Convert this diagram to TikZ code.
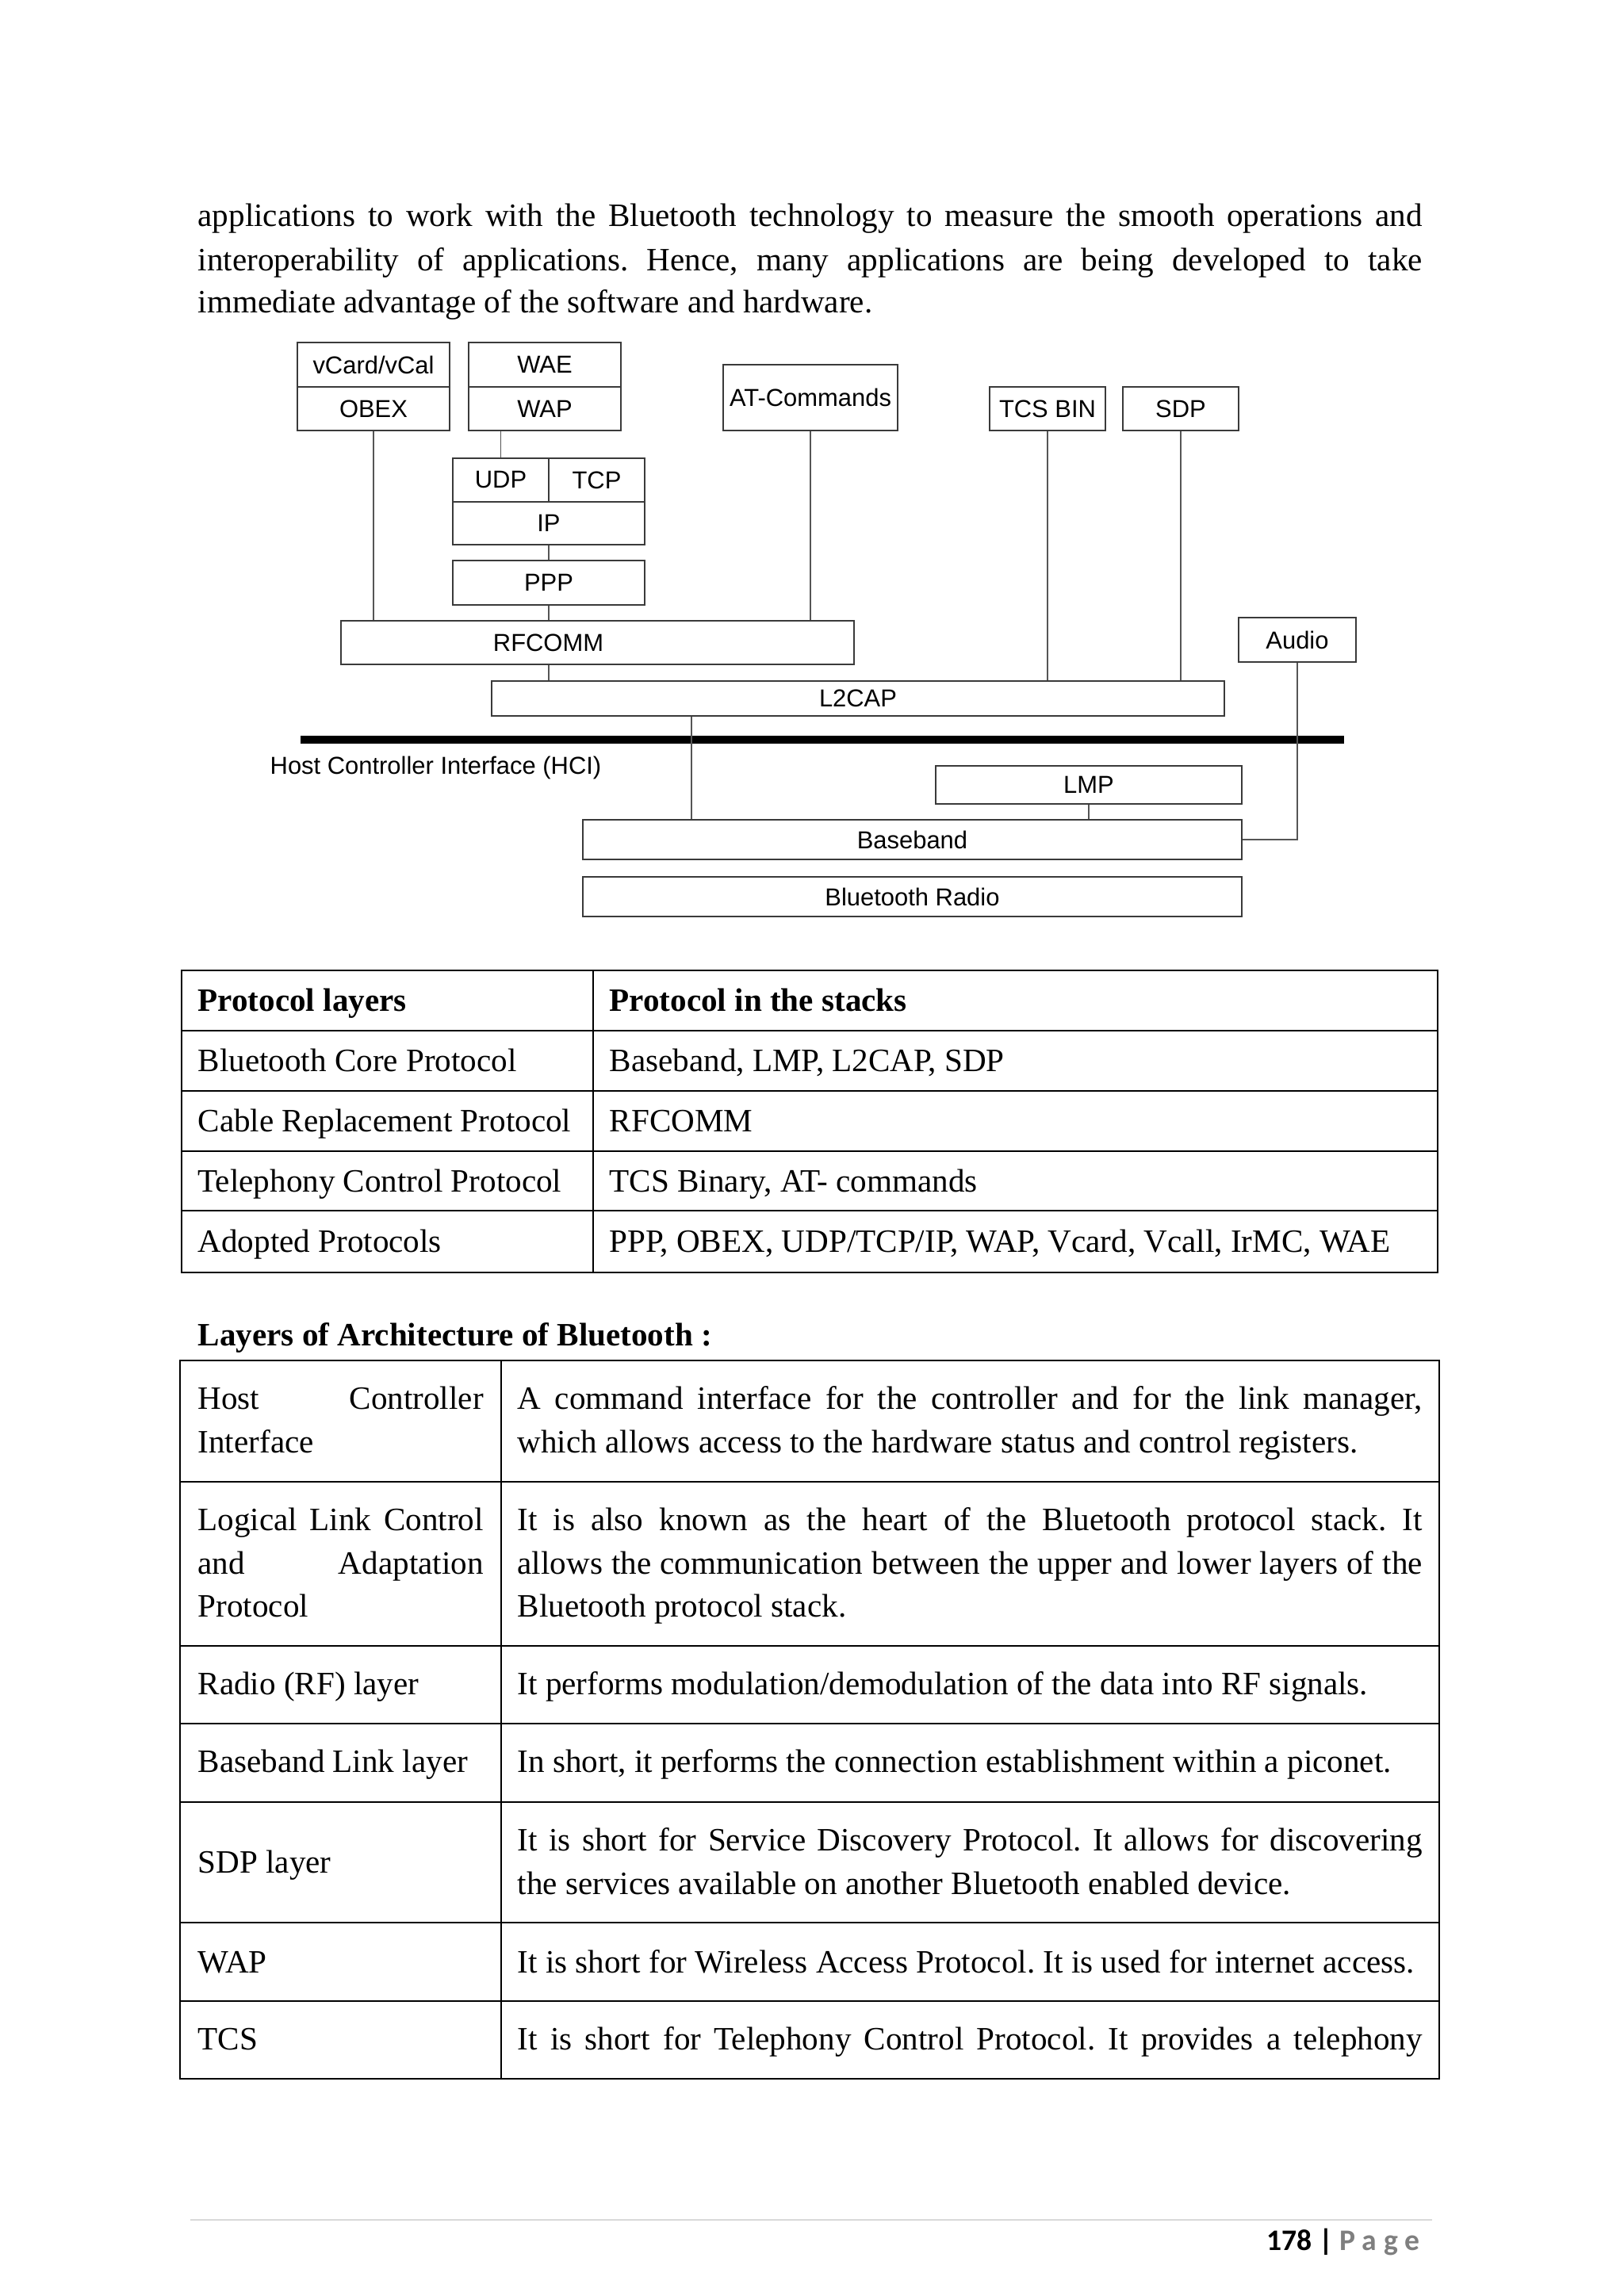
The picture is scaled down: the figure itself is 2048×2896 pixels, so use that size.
\documentclass[tikz,border=0pt]{standalone}
\usepackage{fontspec}
\setmainfont{Liberation Serif}
\newfontfamily\diagfont{Liberation Sans}
\newfontfamily\footfont{Carlito}
\usetikzlibrary{positioning}
\definecolor{boxline}{HTML}{3A3A3A}
\definecolor{wireline}{HTML}{555555}
\definecolor{pagegray}{HTML}{7F7F7F}
\definecolor{ruleline}{HTML}{D9D9D9}
\frenchspacing

\begin{document}
\begin{tikzpicture}[x=0.1mm, y=-0.1mm,
    blk/.style={rectangle, draw=boxline, line width=0.8pt, inner sep=0pt,
                font=\diagfont\fontsize{8.8}{10}\selectfont},
    lbl/.style={inner sep=0pt, font=\diagfont\fontsize{8.8}{10}\selectfont},
    link/.style={draw=wireline, line width=0.55pt},
    body/.style={inner sep=0pt, anchor=base west, font=\fontsize{11.7}{15.5}\selectfont},
    head/.style={body, font=\bfseries\fontsize{11.7}{15.5}\selectfont},
    grid/.style={line width=0.6pt}
  ]
  \useasboundingbox[fill=white] (0,0) rectangle (2048,2896);

  % opening paragraph
  \node[body] (para1) at (249,286) {\makebox[154.4mm][s]{applications to work with the Bluetooth technology to measure the smooth operations and}};
  \node[body] (para2) at (249,342) {\makebox[154.4mm][s]{interoperability of applications. Hence, many applications are being developed to take}};
  \node[body] (para3) at (249,395) {immediate advantage of the software and hardware.};

  % protocol stack
  \node[blk, minimum width=19.2mm, minimum height=5.6mm] (vcard) at (471,460) {vCard/vCal};
  \node[blk, minimum width=19.2mm, minimum height=5.5mm] (obex) at (471,515.5) {OBEX};
  \node[blk, minimum width=19.2mm, minimum height=5.6mm] (wae) at (687,460) {WAE};
  \node[blk, minimum width=19.2mm, minimum height=5.5mm] (wap) at (687,515.5) {WAP};
  \node[blk, minimum width=22mm, minimum height=8.3mm] (atcmd) at (1022,501.5) {AT-Commands};
  \node[blk, minimum width=14.6mm, minimum height=5.5mm] (tcsbin) at (1321,515.5) {TCS BIN};
  \node[blk, minimum width=14.6mm, minimum height=5.5mm] (sdp) at (1489,515.5) {SDP};
  \node[blk, minimum width=12.1mm, minimum height=5.5mm] (udp) at (631.5,605.5) {UDP};
  \node[blk, minimum width=12.1mm, minimum height=5.5mm] (tcp) at (752.5,605.5) {TCP};
  \node[blk, minimum width=24.2mm, minimum height=5.4mm] (ip) at (692,660) {IP};
  \node[blk, minimum width=24.2mm, minimum height=5.6mm] (ppp) at (692,735) {PPP};
  \node[blk, minimum width=64.7mm, minimum height=5.5mm,
        label={[lbl, xshift=-6.2mm]center:RFCOMM}] (rfcomm) at (753.5,810.5) {};
  \node[blk, minimum width=14.8mm, minimum height=5.6mm] (audio) at (1636,807) {Audio};
  \node[blk, minimum width=92.4mm, minimum height=4.4mm] (l2cap) at (1082,881) {L2CAP};
  \node[blk, minimum width=38.6mm, minimum height=4.8mm] (lmp) at (1373,990) {LMP};
  \node[blk, minimum width=83.1mm, minimum height=5mm] (baseband) at (1150.5,1059) {Baseband};
  \node[blk, minimum width=83.1mm, minimum height=5mm] (radio) at (1150.5,1131) {Bluetooth Radio};

  % HCI bar
  \coordinate (hciL) at (379,933);
  \coordinate (hciR) at (1695,933);
  \coordinate (drop) at (872,933);
  \draw[line width=2.6pt] (hciL) -- (hciR);
  \node[lbl, anchor=west] (hcitext) at (340,968) {Host Controller Interface (HCI)};

  \draw[link] (obex.south) -- (obex.south |- rfcomm.north);
  \draw[link] (udp.north) -- (udp.north |- wap.south);
  \draw[link] (ip.south) -- (ppp.north);
  \draw[link] (ppp.south) -- (ppp.south |- rfcomm.north);
  \draw[link] (atcmd.south) -- (atcmd.south |- rfcomm.north);
  \draw[link] (ppp.south |- rfcomm.south) -- (ppp.south |- l2cap.north);
  \draw[link] (tcsbin.south) -- (tcsbin.south |- l2cap.north);
  \draw[link] (sdp.south) -- (sdp.south |- l2cap.north);
  \draw[link] (drop |- l2cap.south) -- (drop |- baseband.north);
  \draw[link] (lmp.south) -- (lmp.south |- baseband.north);
  \draw[link] (audio.south) |- (baseband.east);

  % first table
  \draw[grid] (229,1224) rectangle (1813,1605);
  \draw[grid] (748,1224) -- (748,1605);
  \foreach \y in {1300,1376,1452,1527}
    \draw[grid] (229,\y) -- (1813,\y);
  \node[head] (th1) at (249,1275) {Protocol layers};
  \node[head] (th2) at (768,1275) {Protocol in the stacks};
  \node[body] (ta1) at (249,1351) {Bluetooth Core Protocol};
  \node[body] (tb1) at (768,1351) {Baseband, LMP, L2CAP, SDP};
  \node[body] (ta2) at (249,1427) {Cable Replacement Protocol};
  \node[body] (tb2) at (768,1427) {RFCOMM};
  \node[body] (ta3) at (249,1503) {Telephony Control Protocol};
  \node[body] (tb3) at (768,1503) {TCS Binary, AT- commands};
  \node[body] (ta4) at (249,1579) {Adopted Protocols};
  \node[body] (tb4) at (768,1579) {PPP, OBEX, UDP/TCP/IP, WAP, Vcard, Vcall, IrMC, WAE};

  % second table
  \node[head] (layers) at (249,1697) {Layers of Architecture of Bluetooth :};
  \draw[grid] (227,1716) rectangle (1815,2622);
  \draw[grid] (632,1716) -- (632,2622);
  \foreach \y in {1869,2076,2174,2273,2425,2524}
    \draw[grid] (227,\y) -- (1815,\y);

  \node[body] (hci1) at (249,1777) {\makebox[36mm][s]{Host Controller}};
  \node[body] (hci2) at (249,1832) {Interface};
  \node[body] (hcid1) at (652,1777) {\makebox[114.1mm][s]{A command interface for the controller and for the link manager,}};
  \node[body] (hcid2) at (652,1832) {which allows access to the hardware status and control registers.};

  \node[body] (llc1) at (249,1930) {\makebox[36mm][s]{Logical Link Control}};
  \node[body] (llc2) at (249,1985) {\makebox[36mm][s]{and Adaptation}};
  \node[body] (llc3) at (249,2039) {Protocol};
  \node[body] (llcd1) at (652,1930) {\makebox[114.1mm][s]{It is also known as the heart of the Bluetooth protocol stack. It}};
  \node[body] (llcd2) at (652,1985) {\makebox[114.1mm][s]{allows the communication between the upper and lower layers of the}};
  \node[body] (llcd3) at (652,2039) {Bluetooth protocol stack.};

  \node[body] (rf) at (249,2137) {Radio (RF) layer};
  \node[body] (rfd) at (652,2137) {It performs modulation/demodulation of the data into RF signals.};

  \node[body] (bb) at (249,2235) {Baseband Link layer};
  \node[body] (bbd) at (652,2235) {In short, it performs the connection establishment within a piconet.};

  \node[body] (sdpl) at (249,2362) {SDP layer};
  \node[body] (sdpd1) at (652,2334) {\makebox[114.1mm][s]{It is short for Service Discovery Protocol. It allows for discovering}};
  \node[body] (sdpd2) at (652,2389) {the services available on another Bluetooth enabled device.};

  \node[body] (wapl) at (249,2488) {WAP};
  \node[body] (wapd) at (652,2488) {It is short for Wireless Access Protocol. It is used for internet access.};

  \node[body] (tcsl) at (249,2585) {TCS};
  \node[body] (tcsd) at (652,2585) {\makebox[114.1mm][s]{It is short for Telephony Control Protocol. It provides a telephony}};

  % footer
  \draw[ruleline, line width=0.5pt] (240,2800) -- (1806,2800);
  \node[anchor=base east, inner sep=0pt, font=\footfont\bfseries\fontsize{10.7}{12}\selectfont]
    (pageno) at (1791,2838) {178 | \textcolor{pagegray}{P a g e}};
\end{tikzpicture}
\end{document}
